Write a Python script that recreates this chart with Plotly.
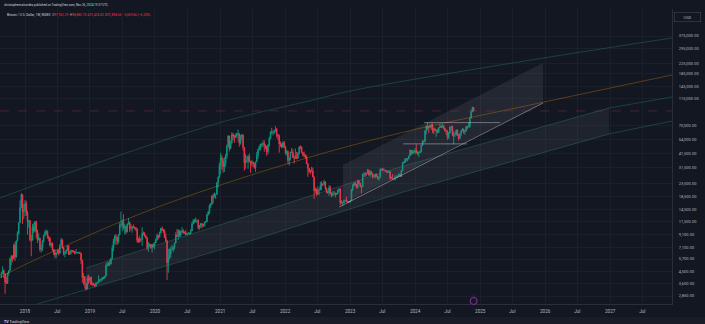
import pandas as pd
import plotly.graph_objects as go

# ---------------- weekly BTC candles (approx) ----------------
first_open = 4090
closes_2017 = [4350, 4600, 4330, 3700, 3620, 4390, 4610, 5700, 6010, 5750, 7400, 5950, 8030, 9300, 11250, 15000, 19100, 13900, 14150]
highs_2017 = [4480, 4980, 4700, 4380, 4100, 4400, 4620, 5850, 6170, 6100, 7600, 7880, 8100, 9600, 11400, 17200, 19700, 19000, 16000]
lows_2017 = [3990, 4280, 3970, 2970, 3580, 3600, 4170, 4600, 5100, 5400, 6100, 5500, 5850, 7950, 9000, 11200, 15000, 11000, 12050]

closes_2018 = [16200, 13600, 11500, 11750, 8200, 8100, 10400, 9650, 11500, 9550, 8200, 8450, 6850, 7050, 8000, 8900, 9400, 9650, 8700, 8500, 7350, 7700, 6780, 6480, 6150, 6380, 6750, 6350, 7400, 8200, 7030, 6300, 6400, 6700, 7300, 6230, 6500, 6700, 6620, 6580, 6350, 6420, 6420, 6450, 6350, 5590, 4020, 4100, 3600, 3250, 3990, 3830, 4050]
highs_2018 = [17250, 17000, 14100, 11900, 11700, 9000, 11000, 11250, 11600, 11700, 9900, 9200, 8500, 7500, 8200, 9000, 9750, 9990, 9650, 8850, 8500, 7750, 7750, 6900, 6850, 6450, 6800, 6800, 7550, 8500, 8250, 7150, 6600, 6850, 7350, 7400, 6600, 6800, 6750, 6700, 6650, 6900, 6500, 6500, 6550, 6400, 5600, 4400, 4150, 3600, 4200, 4250, 4100]
lows_2018 = [12750, 12800, 9000, 10300, 7900, 6000, 8100, 9300, 9400, 8400, 7700, 8100, 6550, 6450, 6630, 7800, 8700, 9000, 8350, 7950, 7250, 7050, 6650, 6150, 5800, 5780, 6300, 6100, 6330, 7350, 6900, 6100, 5880, 6280, 6700, 6150, 6150, 6250, 6420, 6450, 6200, 6350, 6380, 6300, 6280, 5200, 3650, 3500, 3280, 3150, 3250, 3550, 3650]

closes_2019 = [3550, 3530, 3530, 3460, 3650, 3650, 3800, 3860, 3930, 4010, 4000, 4140, 5070, 5080, 5300, 5210, 5760, 6990, 8000, 8730, 8550, 7950, 8950, 10800, 10800, 11450, 10300, 10550, 9500, 11000, 11300, 10250, 10150, 10400, 10350, 10300, 10050, 8050, 7850, 8300, 8250, 9250, 9200, 8800, 8500, 7050, 7400, 7500, 7100, 7500, 7400, 7750]
highs_2019 = [4100, 3700, 3650, 3580, 3680, 3720, 4200, 3900, 3950, 4050, 4100, 4150, 5300, 5450, 5350, 5650, 5850, 7450, 8350, 8950, 9100, 8350, 9100, 11300, 13880, 12000, 13200, 11000, 10650, 11100, 12300, 11500, 10950, 10600, 10900, 10450, 10350, 10050, 8500, 8820, 8400, 10350, 9550, 9450, 8900, 8550, 7850, 7650, 7550, 7530, 7650, 7850]
lows_2019 = [3500, 3450, 3470, 3360, 3400, 3560, 3630, 3740, 3690, 3800, 3900, 3920, 4100, 4950, 5000, 5000, 5150, 5650, 6600, 7500, 7450, 7440, 7650, 8950, 10300, 9600, 9900, 9050, 9100, 9400, 10900, 9500, 9750, 9350, 10150, 9900, 9600, 7750, 7750, 7800, 7900, 7300, 8900, 8650, 8300, 6800, 6530, 7200, 6900, 6450, 7050, 6850]

closes_2020 = [8180, 8900, 8600, 9350, 10150, 9900, 9650, 8550, 8000, 5350, 5800, 6250, 6800, 6900, 7150, 7700, 8900, 8700, 9700, 8900, 9450, 9700, 9350, 9300, 9000, 9100, 9250, 9150, 9700, 11050, 11700, 11900, 11650, 11700, 10250, 10700, 11100, 10750, 10650, 11300, 11500, 13100, 13800, 15500, 15950, 18700, 18200, 19200, 19150, 23850, 26450, 33000]
highs_2020 = [8450, 9200, 8900, 9550, 10150, 10500, 10050, 9950, 9200, 8150, 6900, 6950, 7200, 7450, 7300, 7750, 9450, 10050, 9950, 9850, 9750, 10400, 9980, 9600, 9800, 9350, 9450, 9350, 10000, 11450, 12050, 12100, 12450, 11800, 12100, 10800, 11100, 11000, 10950, 11500, 11700, 13350, 14050, 15950, 16350, 18800, 19450, 19900, 19400, 24250, 26900, 34800]
lows_2020 = [7700, 8100, 8250, 8600, 9150, 9650, 9300, 8450, 7850, 3850, 4400, 5650, 5850, 6700, 6500, 6800, 7650, 8650, 8200, 8600, 8650, 9300, 9100, 9200, 8900, 8950, 9050, 9050, 9150, 9900, 10950, 11150, 11350, 11150, 9900, 9900, 10200, 10150, 10400, 10550, 11200, 11400, 12900, 13250, 14800, 15800, 16200, 18200, 17600, 19000, 21800, 26000]

closes_2021 = [38200, 36000, 32300, 34300, 39200, 47200, 57500, 45200, 51000, 59000, 57400, 55800, 58000, 59800, 60000, 50100, 56600, 58250, 46400, 34700, 35700, 35800, 39000, 35500, 34700, 35300, 34250, 31800, 35400, 39900, 44600, 47000, 49300, 48900, 49900, 48200, 47300, 42700, 48200, 54700, 61500, 61000, 61300, 63300, 65500, 58600, 57200, 49400, 48900, 46700, 50800, 47300]
highs_2021 = [41950, 40100, 37850, 38600, 40950, 49000, 58350, 57500, 52650, 61800, 60700, 58400, 60100, 61300, 64850, 57500, 58450, 59600, 59500, 46650, 40900, 39500, 39950, 41300, 36000, 36650, 35100, 34600, 35400, 42600, 45300, 48100, 49400, 50500, 52900, 52950, 48850, 47300, 49300, 56600, 62900, 67000, 63700, 64250, 69000, 66300, 59500, 59050, 51950, 50300, 51950, 52100]
lows_2021 = [28000, 30400, 28850, 29250, 32300, 37400, 46300, 43000, 44950, 49300, 53300, 50400, 55500, 55500, 51500, 47000, 48750, 53000, 43800, 30000, 31100, 34800, 31000, 34900, 28800, 32700, 32100, 31000, 29300, 35200, 37300, 43800, 43950, 46400, 46500, 42800, 44800, 39600, 40750, 47100, 53900, 59500, 58000, 59500, 62300, 55600, 53250, 42000, 46800, 45550, 45600, 45700]

closes_2022 = [41800, 43100, 36300, 37900, 42400, 42200, 38400, 37700, 38400, 37800, 41300, 46800, 46400, 42150, 40400, 39500, 38500, 34300, 31300, 29450, 29450, 29900, 26600, 20550, 21000, 19300, 20850, 20800, 22600, 23300, 23200, 24300, 21500, 20050, 19800, 21800, 19400, 18800, 19300, 19400, 19200, 19550, 20650, 21300, 16300, 16300, 16450, 17100, 17100, 16750, 16850, 16600]
highs_2022 = [47550, 44450, 43500, 38950, 42650, 45850, 44750, 39850, 45400, 42550, 42400, 47100, 48200, 47200, 42400, 42950, 40800, 40000, 34350, 31350, 30600, 32200, 31750, 26900, 21850, 21500, 22350, 21550, 24250, 24650, 23600, 25200, 24450, 21800, 20550, 22800, 22650, 19950, 20350, 20450, 19950, 19700, 21000, 21450, 21050, 17200, 16800, 17400, 17400, 18350, 16950, 16950]
lows_2022 = [40600, 39650, 34000, 32950, 36250, 41700, 38000, 34300, 37500, 37150, 37600, 40500, 44900, 41900, 39200, 38550, 37650, 33750, 26700, 28650, 28050, 29300, 26550, 17600, 19700, 18650, 18950, 18950, 20750, 20750, 22400, 22700, 20800, 19550, 19600, 18550, 19350, 18150, 18500, 19150, 18150, 18950, 19200, 20050, 15600, 16250, 15500, 16100, 16900, 16550, 16300, 16350]

closes_2023 = [17100, 20900, 22700, 23700, 22950, 21800, 24600, 23550, 22400, 22150, 28000, 27900, 28450, 28350, 30300, 27600, 29300, 28400, 26900, 26750, 28100, 27100, 25850, 26350, 30500, 30600, 30200, 30300, 30100, 29300, 29050, 29300, 26100, 26000, 25850, 25850, 26550, 26550, 27000, 27950, 26850, 29950, 34500, 35000, 37100, 37400, 37450, 39450, 43800, 41400, 43000, 42300]
highs_2023 = [17200, 21250, 23300, 23950, 24250, 23350, 25250, 25100, 23900, 22600, 28350, 28900, 29200, 28750, 31000, 30500, 30000, 29800, 28650, 27500, 28200, 28450, 27250, 26800, 31400, 31250, 31400, 31800, 30350, 29800, 29700, 30250, 29650, 26800, 28150, 26100, 27450, 27450, 27300, 28600, 27950, 30350, 35200, 35950, 37950, 37950, 38000, 39700, 44750, 43400, 44300, 43800]
lows_2023 = [16550, 17100, 20400, 22300, 22550, 21450, 21350, 23100, 21950, 19550, 21950, 26650, 26550, 27250, 28550, 27150, 26950, 27700, 25800, 26350, 25900, 26600, 25400, 24800, 26250, 29550, 29750, 29950, 29600, 28900, 28600, 28700, 25150, 25800, 25350, 25400, 24900, 26350, 26000, 27200, 26550, 26950, 29900, 33950, 34550, 35550, 35650, 36900, 39500, 40200, 40550, 41300]

closes_2024 = [43950, 41800, 41600, 42000, 42600, 48300, 52100, 51750, 63100, 68900, 68400, 67200, 69650, 69350, 65700, 64950, 63400, 63900, 61500, 67000, 68500, 67750, 69650, 66200, 63200, 62700, 55850, 60800, 68150, 68250, 58100, 58700, 58950, 64200, 58000, 54850, 59950, 63550, 65600, 62050, 62850, 68300, 67950, 68700, 80300, 90500, 97964.32, 91894.66]
highs_2024 = [45900, 49000, 43200, 42850, 43850, 48550, 52800, 52950, 64000, 70150, 73800, 68200, 71750, 72750, 72800, 66900, 67200, 64800, 65500, 67450, 71950, 70600, 71950, 70200, 67250, 64550, 63800, 61850, 68350, 69400, 70000, 62700, 61800, 65000, 64950, 59800, 60600, 64100, 66500, 65550, 64450, 69400, 69500, 73600, 81500, 93450, 99550, 98883.75]
lows_2024 = [40750, 41500, 40250, 38550, 41800, 42250, 47700, 50650, 50900, 59000, 64550, 60800, 66950, 64500, 60800, 59650, 62800, 56550, 60200, 60750, 66600, 66700, 67450, 65050, 62950, 58450, 53500, 54300, 59750, 63450, 57150, 49000, 56100, 57850, 57200, 52550, 54600, 57500, 62700, 59850, 58900, 62700, 65050, 67500, 66800, 80250, 89400, 91474.03]

last_open = 97962.29
last_high = 98883.75
last_low = 91474.03
last_close = 91894.66
last_change = -6069.66
last_change_pct = -6.20

closes = closes_2017 + closes_2018 + closes_2019 + closes_2020 + closes_2021 + closes_2022 + closes_2023 + closes_2024
highs = highs_2017 + highs_2018 + highs_2019 + highs_2020 + highs_2021 + highs_2022 + highs_2023 + highs_2024
lows = lows_2017 + lows_2018 + lows_2019 + lows_2020 + lows_2021 + lows_2022 + lows_2023 + lows_2024
assert len(closes) == len(highs) == len(lows), (len(closes), len(highs), len(lows))
dates = pd.date_range("2017-08-21", periods=len(closes), freq="W-MON")
assert dates[-1] == pd.Timestamp("2024-11-25"), (len(closes), dates[-1])
opens = [first_open] + closes[:-1]
opens[-1] = last_open

# ---------------- drawings (dates / prices) ----------------
top_curve_dates = ["2017-08-13", "2018-10-20", "2020-05-21", "2021-03-15", "2022-06-07", "2023-01-01", "2025-04-23", "2027-12-14"]
top_curve_prices = [17935, 30320, 58500, 79000, 112800, 133600, 217600, 361200]

mid_curve_dates = ["2017-08-13", "2017-10-09", "2019-06-18", "2020-09-10", "2022-03-26", "2023-10-09", "2025-10-08", "2027-12-14"]
mid_curve_prices = [3995, 4473, 11428, 20070, 36590, 60740, 102700, 180400]

band_top_dates = ["2018-12-09", "2021-06-18", "2023-10-09", "2026-12-26", "2027-12-14"]
band_top_prices = [4820, 13030, 32080, 97080, 119360]
band_bot_dates = ["2017-11-17", "2018-12-09", "2021-06-18", "2023-10-09", "2026-12-26", "2027-12-14"]
band_bot_prices = [2191, 3214, 8000, 19700, 59610, 76060]

chan_dates = ["2022-11-22", "2025-12-20"]
chan_top_prices = [33310, 225900]
chan_bot_prices = [16320, 106600]
chan_line_dates = ["2022-11-01", "2025-12-20"]
chan_line_prices = [15150, 106600]

ath_line_dates = ["2024-02-21", "2025-04-23"]
ath_line_price = 73800
low_line_dates = ["2023-10-26", "2024-10-19"]
low_line_price = 49500

price_ticks = [2850, 3600, 4500, 5700, 7100, 9100, 11500, 14500, 18500, 23500, 31500, 41500, 54000, 70000, 115000, 145000, 185000, 225000, 295000, 375000]
time_ticks = ["2018-01-01", "2018-07-01", "2019-01-01", "2019-07-01", "2020-01-01", "2020-07-01", "2021-01-01", "2021-07-01",
              "2022-01-01", "2022-07-01", "2023-01-01", "2023-07-01", "2024-01-01", "2024-07-01", "2025-01-01", "2025-07-01",
              "2026-01-01", "2026-07-01", "2027-01-01", "2027-07-01"]
time_labels = ["2018", "Jul", "2019", "Jul", "2020", "Jul", "2021", "Jul", "2022", "Jul", "2023", "Jul", "2024", "Jul", "2025", "Jul", "2026", "Jul", "2027", "Jul"]

# ---------------- figure ----------------
W, H = 705, 324
BG = "#131722"
UP, DOWN = "#089981", "#f23645"
TEXT = "#b2b5be"
FONT = "Roboto"
TEAL = "rgba(60,160,130,0.33)"
ORANGE = "rgba(255,152,0,0.33)"
WHITE = "rgba(210,212,220,0.5)"

fig = go.Figure()

# big channel fill
fig.add_trace(go.Scatter(
    x=band_top_dates[:4] + band_bot_dates[1:5][::-1],
    y=band_top_prices[:4] + band_bot_prices[1:5][::-1],
    fill="toself", fillcolor="rgba(120,123,134,0.12)", line=dict(width=0), mode="lines", hoverinfo="skip"))
# rising channel fill
fig.add_trace(go.Scatter(
    x=chan_dates + chan_dates[::-1],
    y=chan_top_prices + chan_bot_prices[::-1],
    fill="toself", fillcolor="rgba(120,123,134,0.16)", line=dict(width=0), mode="lines", hoverinfo="skip"))

fig.add_trace(go.Scatter(x=top_curve_dates, y=top_curve_prices, mode="lines", line=dict(color=TEAL, width=0.9, shape="spline"), hoverinfo="skip"))
fig.add_trace(go.Scatter(x=mid_curve_dates, y=mid_curve_prices, mode="lines", line=dict(color=ORANGE, width=0.9, shape="spline"), hoverinfo="skip"))
fig.add_trace(go.Scatter(x=band_top_dates, y=band_top_prices, mode="lines", line=dict(color=TEAL, width=0.9), hoverinfo="skip"))
fig.add_trace(go.Scatter(x=band_bot_dates, y=band_bot_prices, mode="lines", line=dict(color=TEAL, width=0.9), hoverinfo="skip"))
fig.add_trace(go.Scatter(x=chan_line_dates, y=chan_line_prices, mode="lines", line=dict(color=WHITE, width=0.9), hoverinfo="skip"))
fig.add_trace(go.Scatter(x=ath_line_dates, y=[ath_line_price] * 2, mode="lines", line=dict(color=WHITE, width=0.9), hoverinfo="skip"))
fig.add_trace(go.Scatter(x=low_line_dates, y=[low_line_price] * 2, mode="lines", line=dict(color=WHITE, width=0.9), hoverinfo="skip"))

fig.add_trace(go.Candlestick(
    x=dates, open=opens, high=highs, low=lows, close=closes,
    increasing=dict(line=dict(color=UP, width=0.9), fillcolor=UP),
    decreasing=dict(line=dict(color=DOWN, width=0.9), fillcolor=DOWN),
    whiskerwidth=0, hoverinfo="skip"))

x0, x1 = "2017-08-13 12:00", "2027-12-14 10:00"
plot_right = 672 / W
fig.update_layout(
    width=W, height=H, margin=dict(l=0, r=0, t=0, b=0),
    paper_bgcolor=BG, plot_bgcolor=BG, showlegend=False,
    font=dict(family=FONT, color=TEXT, size=4),
    xaxis=dict(type="date", range=[x0, x1], domain=[0, plot_right], rangeslider=dict(visible=False),
               tickvals=time_ticks, ticktext=time_labels, tickfont=dict(size=4.6, color=TEXT),
               showgrid=True, gridcolor="#1b1f2a", gridwidth=1, zeroline=False,
               showline=True, linecolor="#2a2e39", linewidth=1, ticks="", ticklabelstandoff=2),
    yaxis=dict(type="log", range=[3.38964, 5.79406], domain=[20 / H, 1 - 9 / H], side="right",
               tickvals=price_ticks, tickformat=",.2f", tickfont=dict(size=4, color=TEXT),
               showgrid=True, gridcolor="#1b1f2a", gridwidth=1, zeroline=False,
               showline=True, linecolor="#2a2e39", linewidth=1, ticks="", ticklabelstandoff=5),
)

# current price dashed line
fig.add_shape(type="line", xref="paper", yref="y", x0=0, x1=plot_right, y0=last_close, y1=last_close,
              line=dict(color="rgba(242,54,69,0.28)", width=1, dash="dash"))
# bottom strip
fig.add_shape(type="rect", xref="paper", yref="paper", x0=0, x1=1, y0=0, y1=7 / H, fillcolor="#1a1d27", line=dict(width=0), layer="below")
# event marker
fig.add_shape(type="circle", xref="x", yref="paper", xsizemode="pixel", ysizemode="pixel",
              xanchor=dates[-1], yanchor=23 / H, x0=-3.5, x1=3.5, y0=-3.5, y1=3.5,
              line=dict(color="#9c27b0", width=1), fillcolor=BG)
fig.add_annotation(x=dates[-1], y=23 / H, xref="x", yref="paper", text="ϟ", showarrow=False,
                   font=dict(size=4, color="#ba68c8"))

# last price label
fig.add_annotation(x=674 / W, y=last_close, xref="paper", yref="y", xanchor="left", yanchor="middle",
                   text=f"{last_close:,.2f}", showarrow=False, bgcolor=DOWN, borderpad=1,
                   font=dict(size=4, color="#ffffff"))
# USD box
fig.add_annotation(x=674 / W, y=1 - 16.5 / H, xref="paper", yref="paper", xanchor="left", yanchor="middle",
                   text="USD", showarrow=False, width=24, height=7, bordercolor="#434651", borderwidth=0.6,
                   bgcolor=BG, font=dict(size=4, color=TEXT))

# header texts
fig.add_annotation(x=2 / W, y=1 - 5 / H, xref="paper", yref="paper", xanchor="left", yanchor="middle", showarrow=False,
                   text="christophermalvardes published on TradingView.com, Nov 26, 2024 19:37 UTC",
                   font=dict(size=3.0, color="#d1d4dc"))
red = DOWN
legend = (f"<span style='color:#d1d4dc'>Bitcoin / U.S. Dollar, 1W, INDEX</span>  "
          f"O<span style='color:{red}'>{last_open:,.2f}</span>  H<span style='color:{red}'>{last_high:,.2f}</span>  "
          f"L<span style='color:{red}'>{last_low:,.2f}</span>  C<span style='color:{red}'>{last_close:,.2f}</span>  "
          f"<span style='color:{red}'>\u2212{abs(last_change):,.2f} (\u2212{abs(last_change_pct):.2f}%)</span>")
fig.add_annotation(x=5 / W, y=1 - 15 / H, xref="paper", yref="paper", xanchor="left", yanchor="middle", showarrow=False,
                   text=legend, font=dict(size=3.2, color=TEXT))
# TradingView logo text
fig.add_annotation(x=2 / W, y=2.5 / H, xref="paper", yref="paper", xanchor="left", yanchor="middle", showarrow=False,
                   text="<b>TV</b> TradingView", font=dict(size=3.6, color="#d1d4dc"))

fig.write_html("out.html")
